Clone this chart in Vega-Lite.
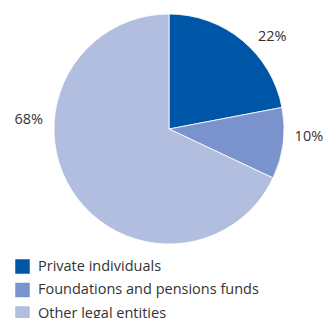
{
  "$schema": "https://vega.github.io/schema/vega-lite/v6.json",
  "width": 338,
  "height": 258,
  "padding": {"left": 0, "top": 0, "right": 0, "bottom": 60},
  "autosize": "none",
  "background": "white",
  "config": {"view": {"stroke": null}, "font": "Open Sans"},
  "data": {"values": [
    {"category": "Private individuals", "share": 22, "order": 1},
    {"category": "Foundations and pensions funds", "share": 10, "order": 2},
    {"category": "Other legal entities", "share": 68, "order": 3}
  ]},
  "transform": [
    {"stack": "share", "groupby": [], "sort": [{"field": "order"}], "as": ["s0", "s1"]},
    {"calculate": "(datum.s0 + datum.s1) / 2", "as": "mid"}
  ],
  "layer": [
    {
      "mark": {"type": "arc", "outerRadius": 115, "stroke": "white", "strokeWidth": 0.8},
      "encoding": {
        "theta": {"field": "s0", "type": "quantitative", "scale": {"domain": [0, 100]}},
        "theta2": {"field": "s1"},
        "color": {
          "field": "category", "type": "nominal",
          "sort": ["Private individuals", "Foundations and pensions funds", "Other legal entities"],
          "scale": {"domain": ["Private individuals", "Foundations and pensions funds", "Other legal entities"], "range": ["#0056a6", "#7b93cc", "#b2bedf"]},
          "legend": {
            "orient": "none", "legendX": 15, "legendY": 259, "title": null,
            "symbolType": "square", "symbolSize": 210, "symbolStrokeWidth": 0,
            "labelFontSize": 14.5, "labelColor": "#333333", "labelFont": "Open Sans",
            "labelLimit": 320,
            "rowPadding": 7.5, "labelOffset": 8, "padding": 0
          }
        }
      }
    },
    {
      "transform": [{"filter": "datum.order == 1"}],
      "mark": {"type": "text", "radius": 140, "fontSize": 14.5, "color": "#333333", "dx": 14, "dy": 16},
      "encoding": {"theta": {"field": "mid", "type": "quantitative", "scale": {"domain": [0, 100]}}, "text": {"value": "22%"}}
    },
    {
      "transform": [{"filter": "datum.order == 2"}],
      "mark": {"type": "text", "radius": 140, "fontSize": 14.5, "color": "#333333", "dx": 1, "dy": -10},
      "encoding": {"theta": {"field": "mid", "type": "quantitative", "scale": {"domain": [0, 100]}}, "text": {"value": "10%"}}
    },
    {
      "transform": [{"filter": "datum.order == 3"}],
      "mark": {"type": "text", "radius": 140, "fontSize": 14.5, "color": "#333333", "dx": -22, "dy": -84},
      "encoding": {"theta": {"field": "mid", "type": "quantitative", "scale": {"domain": [0, 100]}}, "text": {"value": "68%"}}
    }
  ]
}
